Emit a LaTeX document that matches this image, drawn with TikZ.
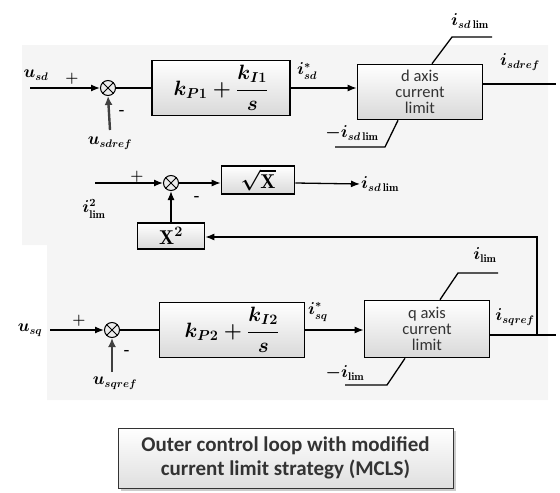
\documentclass[tikz,border=0pt]{standalone}
\usepackage{amsmath}
\usepackage{fontspec}
\setsansfont{Carlito}
\usetikzlibrary{arrows.meta,calc}
\begin{document}
\begin{tikzpicture}[x=1pt,y=-1pt,
  blk/.style={draw=black, line width=1.6pt, top color=white, bottom color=gray!30, inner sep=2pt},
  blkfont/.style={font=\fontsize{20}{22}\selectfont\boldmath},
  sumc/.style={circle, draw=black, line width=1pt, minimum size=15pt, inner sep=0pt, fill=gray!15},
  crs/.style={line width=0.9pt},
  ln/.style={line width=1.3pt},
  arr/.style={line width=1.3pt, -{Latex[length=9pt,width=7pt]}},
  marr/.style={line width=2.4pt, draw=black!75, -{Latex[length=9pt,width=8pt]}},
  lab/.style={font=\fontsize{16}{17}\selectfont\boldmath, inner sep=1pt},
  sg/.style={font=\fontsize{15}{15}\selectfont\bfseries, inner sep=0pt},
  boxtxt/.style={font=\sffamily\fontsize{16.5}{16}\selectfont, text=black!80, align=center}
]
\useasboundingbox (0,0) rectangle (560,493);
\fill[gray!8] (22,45) -- (548,45) -- (548,400) -- (47,400) -- (47,245) -- (22,245) -- cycle;

% ---------- row 1 ----------
\node[sumc] (s1) at (108,88) {};
\draw[crs] (s1.north west) -- (s1.south east) (s1.north east) -- (s1.south west);
\node[blk, blkfont, minimum width=138pt, minimum height=55pt] (pi1) at (221,88) {$k_{P1}+\displaystyle\frac{k_{I1}}{s}$};
\node[blk, minimum width=125pt, minimum height=55pt, boxtxt] (dbox) at (420,92) {d axis\\current\\limit};
\coordinate (in1) at (30,88);
\coordinate (m1) at (110,130);
\coordinate (out1) at (556,84);
\draw[arr] (in1) -- (s1.west);
\draw[marr] (m1) -- (s1.south);
\draw[ln] (s1.east) -- (pi1.west);
\draw[arr] (pi1.east |- s1) -- (dbox.west |- s1);
\draw[ln] (dbox.east |- out1) -- (out1);
\coordinate (du1) at (452,37);
\coordinate (du2) at (492,37);
\draw[ln] ($(dbox.north)+(12,0)$) -- (du1) -- (du2);
\coordinate (dl1) at (385,147);
\coordinate (dl2) at (335,147);
\draw[ln] ($(dbox.south)+(-22,0)$) -- (dl1) -- (dl2);
\node[lab] (lusd) at (36,75) {$u_{sd}$};
\node[sg] (p1) at (72,79) {+};
\node[sg] (n1) at (122,112) {-};
\node[lab] (lusdref) at (110,143) {$u_{sdref}$};
\node[lab] (listsd) at (307,71) {$i^{*}_{sd}$};
\node[lab] (lisdref) at (520,62) {$i_{sdref}$};
\node[lab] (lisdlim) at (470,21) {$i_{sd\,\mathrm{lim}}$};
\node[lab] (lnisdlim) at (352,133) {$-i_{sd\,\mathrm{lim}}$};

% ---------- row 2 ----------
\node[sumc] (s2) at (171,183) {};
\draw[crs] (s2.north west) -- (s2.south east) (s2.north east) -- (s2.south west);
\node[blk, blkfont, minimum width=73pt, minimum height=28pt] (sq) at (258,180) {$\sqrt{\mathrm{X}}$};
\node[blk, blkfont, minimum width=67pt, minimum height=26pt] (x2) at (171,236) {$\mathrm{X}^{2}$};
\coordinate (in2) at (95,183);
\draw[arr] (in2) -- (s2.west);
\draw[arr] (s2.east) -- (sq.west |- s2);
\draw[arr] (x2.north) -- (s2.south);
\node[lab, anchor=west] (lisdlim2) at (360,184) {$i_{sd\,\mathrm{lim}}$};
\draw[arr] (sq.east |- s2) -- (lisdlim2.west);
\node[lab] (lilim2) at (94,209) {$i^{2}_{\mathrm{lim}}$};
\node[sg] (p2) at (137,177) {+};
\node[sg] (n2) at (197,198) {-};

% ---------- row 3 ----------
\node[sumc] (s3) at (112,330) {};
\draw[crs] (s3.north west) -- (s3.south east) (s3.north east) -- (s3.south west);
\node[blk, blkfont, minimum width=145pt, minimum height=55pt] (pi2) at (232,330) {$k_{P2}+\displaystyle\frac{k_{I2}}{s}$};
\node[blk, minimum width=125pt, minimum height=57pt, boxtxt] (qbox) at (427,329) {q axis\\current\\limit};
\coordinate (in3) at (50,330);
\coordinate (m3) at (112,372);
\coordinate (out3) at (556,335);
\coordinate (fb1) at (537,335);
\coordinate (fb2) at (537,237);
\draw[arr] (in3) -- (s3.west);
\draw[marr] (m3) -- (s3.south);
\draw[ln] (s3.east) -- (pi2.west |- s3);
\draw[arr] (pi2.east |- s3) -- (qbox.west |- s3);
\draw[ln] (qbox.east |- out3) -- (out3);
\draw[arr] (fb1) -- (fb2) -- (x2.east |- fb2);
\coordinate (qu1) at (458,273);
\coordinate (qu2) at (498,273);
\draw[ln] ($(qbox.north)+(13,0)$) -- (qu1) -- (qu2);
\coordinate (ql1) at (387,385);
\coordinate (ql2) at (345,385);
\draw[ln] ($(qbox.south)+(-22,0)$) -- (ql1) -- (ql2);
\node[lab] (lusq) at (30,330) {$u_{sq}$};
\node[sg] (p3) at (79,321) {+};
\node[sg] (n3) at (127,352) {-};
\node[lab] (lusqref) at (115,383) {$u_{sqref}$};
\node[lab] (listsq) at (318,312) {$i^{*}_{sq}$};
\node[lab] (lisqref) at (515,317) {$i_{sqref}$};
\node[lab] (lilim) at (485,255) {$i_{\mathrm{lim}}$};
\node[lab] (lnilim) at (345,373) {$-i_{\mathrm{lim}}$};

% ---------- title ----------
\fill[gray!40] (121,431) rectangle (456,491);
\node[draw=black!80, line width=1pt, top color=white, bottom color=gray!25, minimum width=335pt, minimum height=60pt, align=center, font=\sffamily\bfseries\fontsize{21}{24}\selectfont, text=black!80] (title) at (285.5,458) {Outer control loop with modified\\current limit strategy (MCLS)};
\end{tikzpicture}
\end{document}
